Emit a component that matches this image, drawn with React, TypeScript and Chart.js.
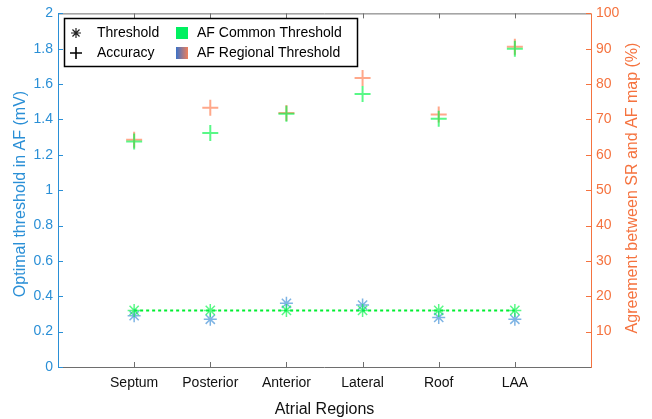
import React, { useEffect, useRef } from "react";
import { Chart, registerables } from "chart.js";

Chart.register(...registerables);

const categories = ["Septum", "Posterior", "Anterior", "Lateral", "Roof", "LAA"];
const regionalThreshold = [0.29, 0.27, 0.36, 0.35, 0.28, 0.27];
const commonThreshold = [0.32, 0.32, 0.32, 0.32, 0.32, 0.32];
const regionalAccuracy = [64.3, 73.3, 71.8, 81.7, 71.4, 90.6];
const commonAccuracy = [63.8, 66.2, 71.6, 77.2, 70.2, 90.0];
const leftTicks = [0, 0.2, 0.4, 0.6, 0.8, 1, 1.2, 1.4, 1.6, 1.8, 2];
const rightTicks = [10, 20, 30, 40, 50, 60, 70, 80, 90, 100];
const leftTitle = "Optimal threshold in AF (mV)";
const rightTitle = "Agreement between SR and AF map (%)";

const BLUE = "#2a8fd6";
const ORANGE = "#f5733f";
const GREEN_M = "rgba(0,245,70,0.65)";
const BLUE_M = "rgba(40,130,210,0.6)";
const ORANGE_M = "rgba(255,110,60,0.6)";
const FONT = "'Liberation Sans', Arial, sans-serif";

const pts = (arr: number[]) => arr.map((v, i) => ({ x: i + 1, y: v }));

const boxPlugin = {
  id: "boxPlugin",
  afterDraw(chart: any) {
    const { ctx, chartArea: a, scales } = chart;
    const L = 5;
    ctx.save();
    ctx.lineWidth = 1;
    ctx.strokeStyle = "#6e6e6e";
    ctx.beginPath();
    ctx.moveTo(a.left, a.top + 0.5);
    ctx.lineTo(a.right, a.top + 0.5);
    ctx.moveTo(a.left, a.bottom + 0.5);
    ctx.lineTo(a.right, a.bottom + 0.5);
    scales.x.ticks.forEach((t: any) => {
      const x = Math.round(scales.x.getPixelForValue(t.value)) + 0.5;
      ctx.moveTo(x, a.bottom);
      ctx.lineTo(x, a.bottom - L);
      ctx.moveTo(x, a.top);
      ctx.lineTo(x, a.top + L);
    });
    ctx.stroke();
    ctx.strokeStyle = BLUE;
    ctx.beginPath();
    ctx.moveTo(a.left + 0.5, a.top);
    ctx.lineTo(a.left + 0.5, a.bottom + 1);
    scales.y.ticks.forEach((t: any) => {
      const y = Math.round(scales.y.getPixelForValue(t.value)) + 0.5;
      ctx.moveTo(a.left, y);
      ctx.lineTo(a.left + L, y);
    });
    ctx.stroke();
    ctx.strokeStyle = ORANGE;
    ctx.beginPath();
    ctx.moveTo(a.right + 0.5, a.top);
    ctx.lineTo(a.right + 0.5, a.bottom + 1);
    scales.y1.ticks.forEach((t: any) => {
      const y = Math.round(scales.y1.getPixelForValue(t.value)) + 0.5;
      ctx.moveTo(a.right, y);
      ctx.lineTo(a.right - L, y);
    });
    ctx.stroke();

    ctx.font = `16px ${FONT}`;
    ctx.textAlign = "center";
    ctx.textBaseline = "middle";
    ctx.fillStyle = BLUE;
    ctx.save();
    ctx.translate(21, 194);
    ctx.rotate(-Math.PI / 2);
    ctx.fillText(leftTitle, 0, 0);
    ctx.restore();
    ctx.fillStyle = ORANGE;
    ctx.save();
    ctx.translate(633, 188);
    ctx.rotate(-Math.PI / 2);
    ctx.fillText(rightTitle, 0, 0);
    ctx.restore();

    const lx = 64, ly = 18, lw = 293, lh = 48;
    ctx.fillStyle = "#fff";
    ctx.fillRect(lx, ly, lw, lh);
    ctx.strokeStyle = "#000";
    ctx.lineWidth = 1.5;
    ctx.strokeRect(lx + 0.5, ly + 0.5, lw, lh);
    ctx.lineWidth = 1.2;
    const ax = 76, ay = 33, r = 5;
    ctx.strokeStyle = "#222";
    ctx.beginPath();
    for (let k = 0; k < 4; k++) {
      const ang = (k * Math.PI) / 4;
      ctx.moveTo(ax - r * Math.cos(ang), ay - r * Math.sin(ang));
      ctx.lineTo(ax + r * Math.cos(ang), ay + r * Math.sin(ang));
    }
    ctx.stroke();
    const py = 53;
    ctx.lineWidth = 1.6;
    ctx.strokeStyle = "#000";
    ctx.beginPath();
    ctx.moveTo(ax - 6, py);
    ctx.lineTo(ax + 6, py);
    ctx.moveTo(ax, py - 6);
    ctx.lineTo(ax, py + 6);
    ctx.stroke();
    ctx.fillStyle = "#00f060";
    ctx.fillRect(176, 27, 12, 12);
    const g = ctx.createLinearGradient(176, 0, 188, 0);
    g.addColorStop(0, "#3a72c8");
    g.addColorStop(1, "#f0805a");
    ctx.fillStyle = g;
    ctx.fillRect(176, 47, 12, 12);
    ctx.fillStyle = "#000";
    ctx.font = `14px ${FONT}`;
    ctx.textBaseline = "middle";
    ctx.textAlign = "left";
    ctx.fillText("Threshold", 97, 33);
    ctx.fillText("Accuracy", 97, 53);
    ctx.fillText("AF Common Threshold", 197, 33);
    ctx.fillText("AF Regional Threshold", 197, 53);
    ctx.restore();
  },
};

export default function App() {
  const ref = useRef<HTMLCanvasElement>(null);
  useEffect(() => {
    if (!ref.current) return;
    const chart = new Chart(ref.current, {
      type: "scatter",
      data: {
        datasets: [
          {
            type: "line",
            data: pts(commonThreshold),
            borderColor: "#00ee30",
            borderWidth: 2,
            borderDash: [3, 3],
            pointRadius: 0,
            yAxisID: "y",
            order: 5,
          } as any,
          {
            data: pts(regionalThreshold),
            pointStyle: "star",
            pointRadius: 6.5,
            borderColor: BLUE_M,
            backgroundColor: BLUE_M,
            borderWidth: 1.5,
            yAxisID: "y",
            order: 4,
          },
          {
            data: pts(commonThreshold),
            pointStyle: "star",
            pointRadius: 6.5,
            borderColor: GREEN_M,
            backgroundColor: GREEN_M,
            borderWidth: 1.5,
            yAxisID: "y",
            order: 3,
          },
          {
            data: pts(regionalAccuracy),
            pointStyle: "cross",
            pointRadius: 8,
            borderColor: ORANGE_M,
            backgroundColor: ORANGE_M,
            borderWidth: 2,
            yAxisID: "y1",
            order: 2,
          },
          {
            data: pts(commonAccuracy),
            pointStyle: "cross",
            pointRadius: 8,
            borderColor: GREEN_M,
            backgroundColor: GREEN_M,
            borderWidth: 2,
            yAxisID: "y1",
            order: 1,
          },
        ],
      },
      options: {
        animation: false,
        responsive: false,
        maintainAspectRatio: false,
        layout: { padding: { top: 11, left: 0, right: 0, bottom: 0 } },
        plugins: { legend: { display: false }, tooltip: { enabled: false } },
        scales: {
          x: {
            type: "linear",
            min: 0,
            max: 7,
            afterBuildTicks: (s: any) => {
              s.ticks = categories.map((_, i) => ({ value: i + 1 }));
            },
            afterFit: (s: any) => {
              s.height = 52;
            },
            ticks: {
              callback: (v: any) => categories[Number(v) - 1] ?? "",
              color: "#111",
              font: { family: FONT, size: 14 },
              padding: 8,
              maxRotation: 0,
              autoSkip: false,
            },
            grid: { display: false, drawTicks: false },
            border: { display: false },
            title: {
              display: true,
              text: "Atrial Regions",
              color: "#111",
              font: { family: FONT, size: 16 },
              padding: { top: 2, bottom: 0 },
            },
          },
          y: {
            type: "linear",
            position: "left",
            min: 0,
            max: 2,
            afterBuildTicks: (s: any) => {
              s.ticks = leftTicks.map((v) => ({ value: v }));
            },
            afterFit: (s: any) => {
              s.width = 58;
            },
            ticks: {
              color: BLUE,
              font: { family: FONT, size: 14 },
              padding: 5,
              callback: (v: any) => String(Math.round(Number(v) * 10) / 10),
            },
            grid: { display: false, drawTicks: false },
            border: { display: false },
          },
          y1: {
            type: "linear",
            position: "right",
            min: 0,
            max: 100,
            afterBuildTicks: (s: any) => {
              s.ticks = rightTicks.map((v) => ({ value: v }));
            },
            afterFit: (s: any) => {
              s.width = 61;
            },
            ticks: {
              color: ORANGE,
              font: { family: FONT, size: 14 },
              padding: 5,
            },
            grid: { display: false, drawTicks: false },
            border: { display: false },
          },
        },
      },
      plugins: [boxPlugin],
    });
    return () => chart.destroy();
  }, []);
  return (
    <div style={{ position: "fixed", left: 0, top: 0, width: 652, height: 419, background: "#fff" }}>
      <canvas ref={ref} width={652} height={419} style={{ width: 652, height: 419 }} />
    </div>
  );
}
